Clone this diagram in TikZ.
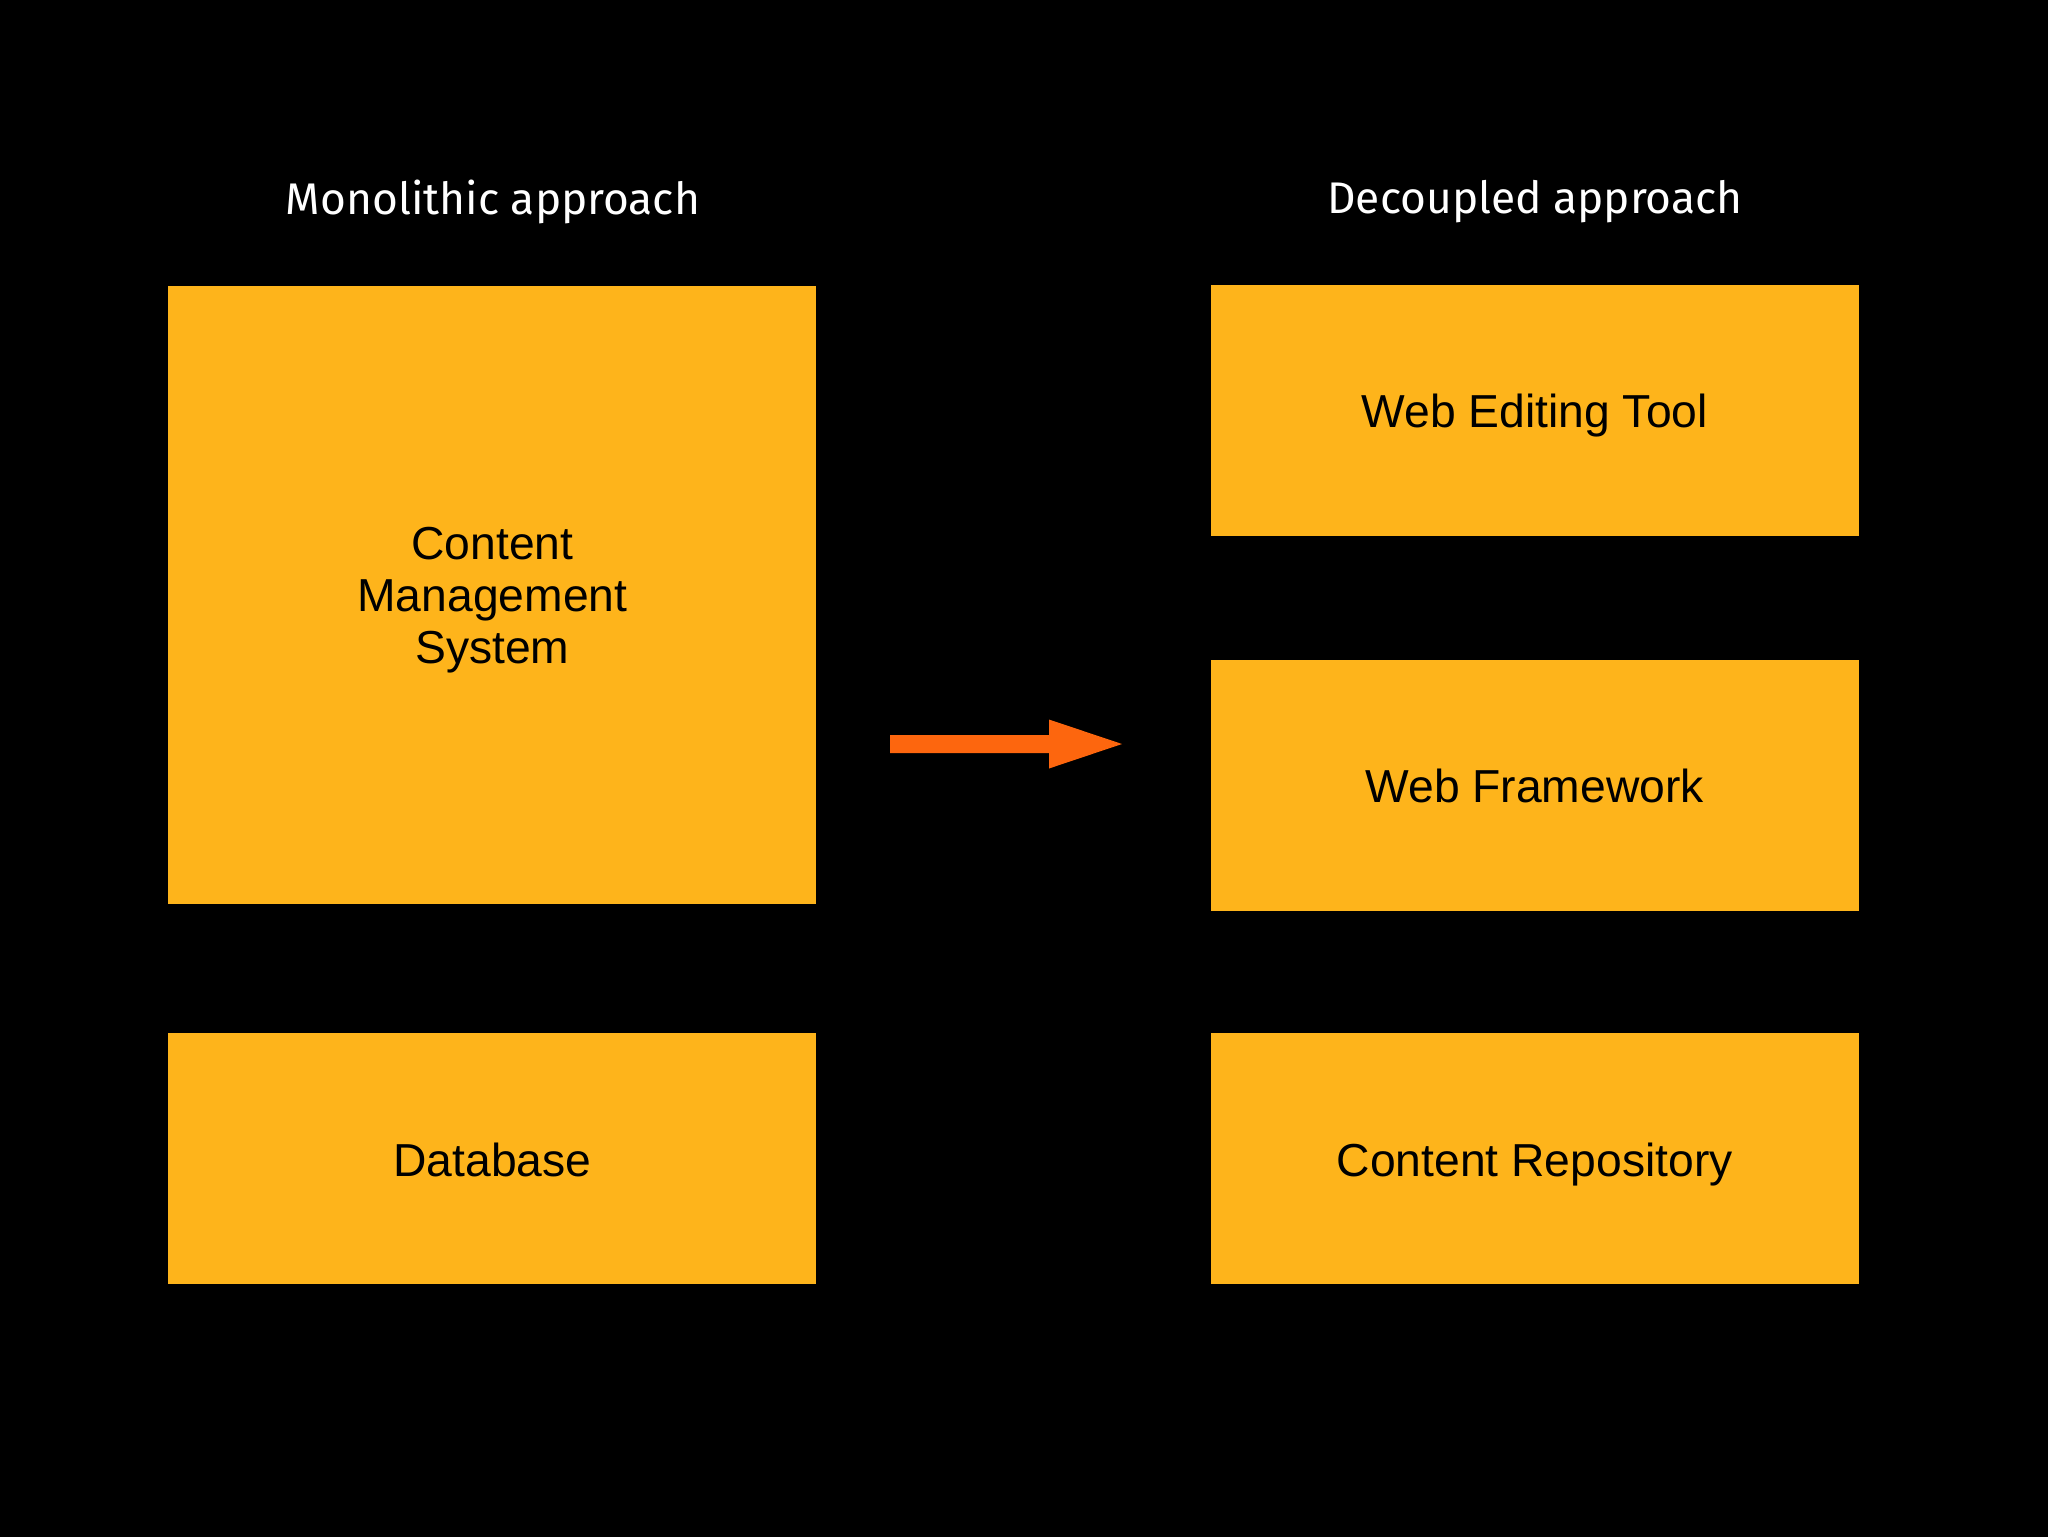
\documentclass[tikz,border=0pt]{standalone}
\usepackage{fontspec}
\setmainfont{Liberation Sans}
\newfontfamily\titlefont{Fira Sans}
\definecolor{boxfill}{RGB}{254,180,27}
\definecolor{arrowfill}{RGB}{253,102,14}
\begin{document}
\begin{tikzpicture}[x=0.25mm,y=-0.25mm,
  box/.style={fill=boxfill,draw=none,inner sep=0pt,minimum width=161.95mm},
  lbl/.style={align=center,inner sep=0pt,text=black,yshift=-1.3mm,
    font=\fontsize{32.9}{37.1}\selectfont},
  lbl1/.style={lbl,yshift=-2.2mm,text height=0.73em,text depth=0.21em},
  ttl/.style={text=white,font=\titlefont\fontsize{31.5}{37}\selectfont}]
\fill[black] (0,0) rectangle (2048,1537);
\useasboundingbox (0,0) rectangle (2048,1537);
\node[ttl] (t1) at (493,202) {Monolithic approach};
\node[ttl] (t2) at (1535,202) {Decoupled approach};
\node[box,minimum height=154.5mm,label={[lbl,name=cmst]center:Content\\Management\\ System}] (cms) at (492.4,595) {};
\node[box,minimum height=62.75mm,label={[lbl1,name=dbt]center:Database}] (db) at (492.4,1158.5) {};
\node[box,minimum height=62.75mm,label={[lbl1,name=wett]center:Web Editing Tool}] (wet) at (1534.7,410) {};
\node[box,minimum height=62.75mm,label={[lbl1,name=wft]center:Web Framework}] (wf) at (1534.7,785) {};
\node[box,minimum height=62.75mm,label={[lbl1,name=crt]center:Content Repository}] (cr) at (1534.7,1158.5) {};
\coordinate (as) at (890,744);
\coordinate (ae) at (1122,744);
\fill[arrowfill] (as) ++(0,-9) -- ++(159,0) -- ++(0,-15.5) -- (ae) -- ++(-73,24.5) -- ++(0,-15.5) -- ++(-159,0) -- cycle;
\end{tikzpicture}
\end{document}
